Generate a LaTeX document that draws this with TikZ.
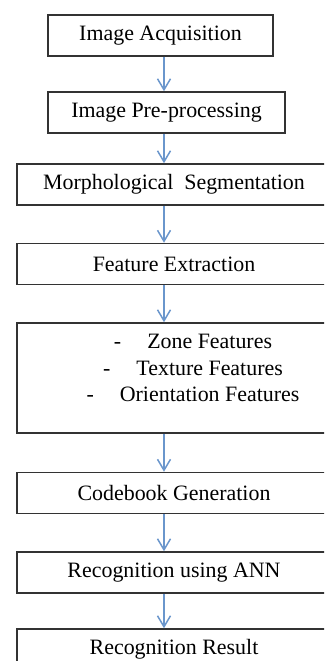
\documentclass[tikz,border=0pt]{standalone}
\usepackage{fontspec}
\setmainfont{Liberation Serif}
\usetikzlibrary{positioning, arrows.meta}
\definecolor{boxLine}{HTML}{333333}
\definecolor{flowBlue}{HTML}{6A96CC}

\begin{document}
\begin{tikzpicture}[
    x=0.5bp, y=-0.5bp,
    stage/.style={draw=boxLine, line width=0.75bp, rectangle, minimum height=20.5bp, inner sep=0pt, align=center, font=\fontsize{11}{13.5}\selectfont},
    wide/.style={stage, minimum width=157bp},
    >={Straight Barb[length=5.5bp, width=6.5bp]},
    flow/.style={draw=flowBlue, line width=0.75bp, ->},
]
\useasboundingbox (0,0) rectangle (324,661);
\clip (0,0) rectangle (324,661);
\node[stage, minimum width=112.5bp] (acq)      at (160.5, 35.5) {Image Acquisition};
\node[stage, minimum width=118.5bp] (prep)     at (166.5, 112.5) {Image Pre-processing};
\node[wide]                         (seg)      at (174, 184.5) {Morphological\ \ Segmentation};
\node[wide]                         (featx)    at (174, 264) {Feature Extraction};
\node[wide, minimum height=55bp]    (feat)     at (174, 378) {};
\node[align=center, inner sep=0pt, font=\fontsize{11}{13.5}\selectfont]
                                    (featlist) at (193, 368)
    {-\hspace{13bp}Zone Features\\ -\hspace{13bp}Texture Features\\ -\hspace{13bp}Orientation Features};
\node[wide]                         (codebook) at (174, 493) {Codebook Generation};
\node[wide]                         (recog)    at (174, 572.5) {Recognition using ANN};
\node[wide]                         (result)   at (174, 649.5) {Recognition Result};
\coordinate (ax) at (164, 0);
\draw[flow] (acq.south -| ax)      -- (prep.north -| ax);
\draw[flow] (prep.south -| ax)     -- (seg.north -| ax);
\draw[flow] (seg.south -| ax)      -- (featx.north -| ax);
\draw[flow] (featx.south -| ax)    -- (feat.north -| ax);
\draw[flow] (feat.south -| ax)     -- (codebook.north -| ax);
\draw[flow] (codebook.south -| ax) -- (recog.north -| ax);
\draw[flow] (recog.south -| ax)    -- (result.north -| ax);
\end{tikzpicture}
\end{document}
